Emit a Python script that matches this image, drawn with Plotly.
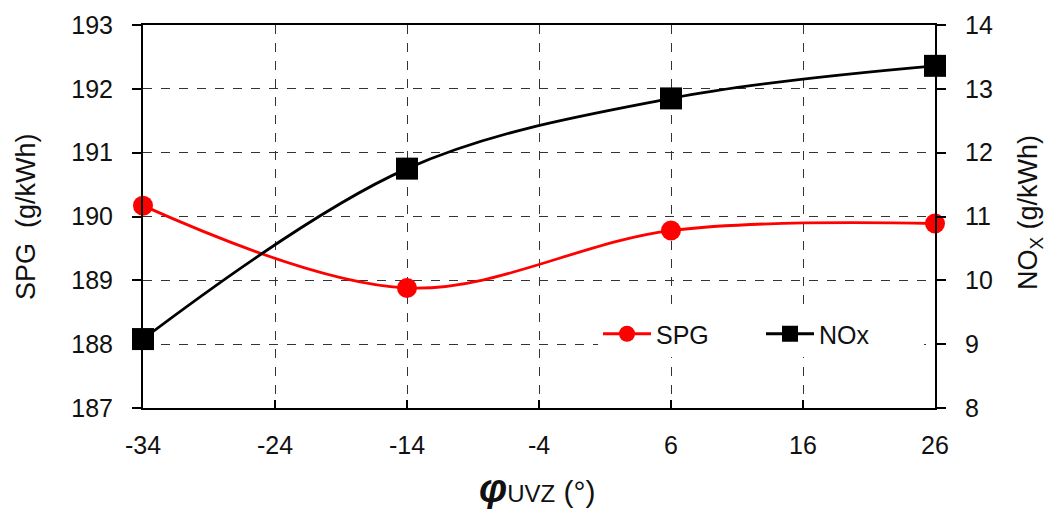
import plotly.graph_objects as go

# Data
phi = [-34, -14, 6, 26]
spg = [190.17, 188.88, 189.78, 189.89]
nox = [9.08, 11.75, 12.85, 13.36]
x_ticks = [-34, -24, -14, -4, 6, 16, 26]
y_left_ticks = [187, 188, 189, 190, 191, 192, 193]
y_right_ticks = [8, 9, 10, 11, 12, 13, 14]

FONT = "Liberation Sans, Arial, sans-serif"

fig = go.Figure()
fig.add_trace(go.Scatter(
    x=phi, y=spg, name="SPG", mode="lines+markers",
    line=dict(color="#ff0000", width=2.8, shape="spline", smoothing=1),
    marker=dict(symbol="circle", size=20, color="#ff0000"),
    yaxis="y", cliponaxis=False,
))
fig.add_trace(go.Scatter(
    x=phi, y=nox, name="NOx", mode="lines+markers",
    line=dict(color="#000000", width=2.8, shape="spline", smoothing=1),
    marker=dict(symbol="square", size=22, color="#000000"),
    yaxis="y2", cliponaxis=False,
))

L, R, T, B = 143, 115, 25, 101
W, H = 1050, 509
pw, ph = W - L - R, H - T - B

fig.update_layout(
    width=W, height=H,
    margin=dict(l=L, r=R, t=T, b=B, pad=0),
    paper_bgcolor="white", plot_bgcolor="white",
    font=dict(family=FONT, size=25, color="#111111"),
    showlegend=True,
    legend=dict(
        orientation="h", x=(598 - L) / pw, y=(H - B - 334) / ph,
        xanchor="left", yanchor="middle",
        bgcolor="white", borderwidth=0,
        font=dict(size=25, family=FONT, color="#111111"),
        itemwidth=48, entrywidth=100,
    ),
    xaxis=dict(
        range=[-34, 26], tickvals=x_ticks, ticktext=[str(v) for v in x_ticks],
        showgrid=True, gridcolor="#333333", griddash="dash", gridwidth=1,
        showline=True, linecolor="black", linewidth=2, mirror=True,
        ticks="inside", ticklen=8, tickcolor="black", tickwidth=1.5,
        ticklabelstandoff=14, zeroline=False,
        tickfont=dict(size=25),
    ),
    yaxis=dict(
        range=[187, 193], tickvals=y_left_ticks,
        showgrid=True, gridcolor="#333333", griddash="dash", gridwidth=1,
        showline=True, linecolor="black", linewidth=2,
        ticks="outside", ticklen=9, tickcolor="black", tickwidth=1.5,
        ticklabelstandoff=14, zeroline=False,
        tickfont=dict(size=25),
    ),
    yaxis2=dict(
        range=[8, 14], tickvals=y_right_ticks, overlaying="y", side="right",
        showgrid=False,
        showline=True, linecolor="black", linewidth=2,
        ticks="outside", ticklen=9, tickcolor="black", tickwidth=1.5,
        ticklabelstandoff=14, zeroline=False,
        tickfont=dict(size=25),
    ),
    annotations=[
        dict(text="SPG\u00a0\u00a0(g/kWh)", xref="paper", yref="paper",
             x=(26 - L) / pw, y=(H - B - 217) / ph, textangle=-90,
             showarrow=False, xanchor="center", yanchor="middle",
             font=dict(size=27, family=FONT, color="#111111")),
        dict(text="NO<sub>X</sub> (g/kWh)", xref="paper", yref="paper",
             x=(1030 - L) / pw, y=(H - B - 213) / ph, textangle=-90,
             showarrow=False, xanchor="center", yanchor="middle",
             font=dict(size=27, family=FONT, color="#111111")),
        dict(text="<b><i><span style='font-size:40px'>φ</span></i></b><span style='font-size:24px'>UVZ</span> (°)",
             xref="paper", yref="paper",
             x=(537 - L) / pw, y=-(488 - (H - B)) / ph,
             showarrow=False, xanchor="center", yanchor="middle",
             font=dict(size=30, family=FONT, color="#111111")),
    ],
)

fig.write_html("out.html", config={"displayModeBar": False},
               post_script="document.body.style.margin='0';")
